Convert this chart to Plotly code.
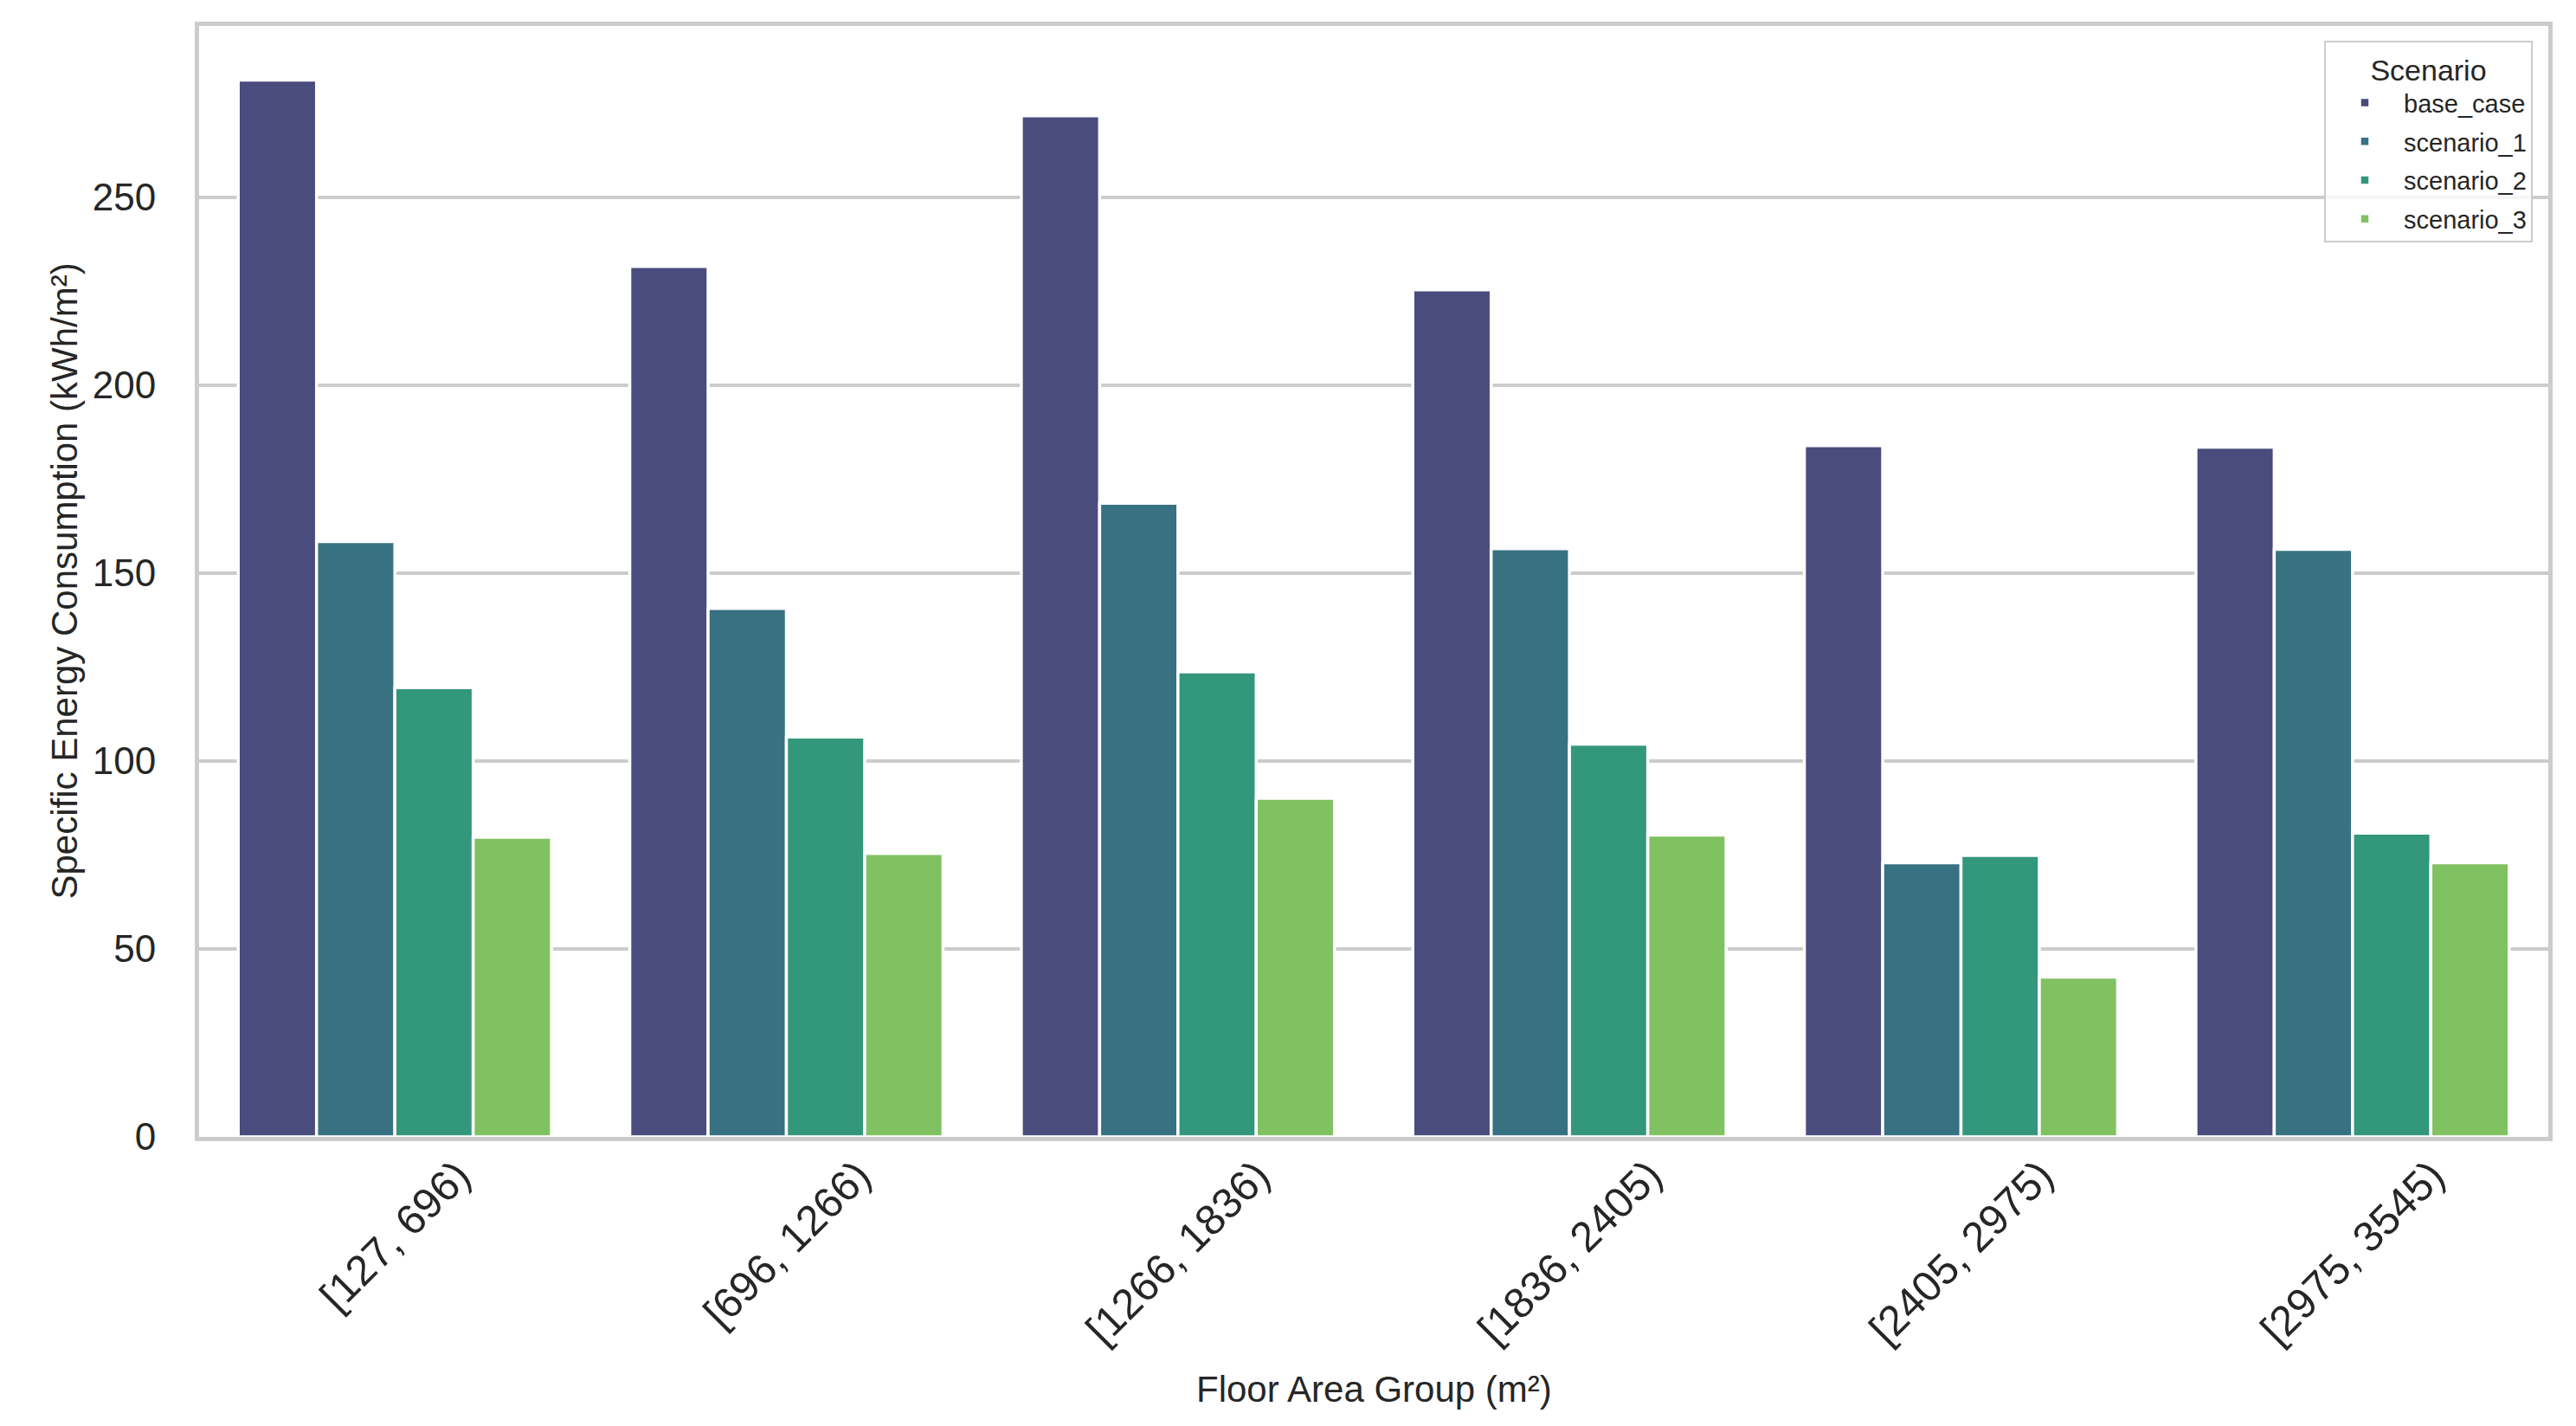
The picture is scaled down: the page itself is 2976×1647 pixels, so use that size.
import plotly.graph_objects as go

# Floor-area bins (x categories) and specific energy per scenario (kWh/m²)
area_groups = ["[127, 696)", "[696, 1266)", "[1266, 1836)",
               "[1836, 2405)", "[2405, 2975)", "[2975, 3545)"]
scenarios = ["base_case", "scenario_1", "scenario_2", "scenario_3"]

base_case = [281.2, 231.6, 271.7, 225.4, 183.9, 183.5]
scenario_1 = [158.4, 140.6, 168.6, 156.5, 72.9, 156.3]
scenario_2 = [119.5, 106.4, 123.7, 104.5, 74.9, 80.8]
scenario_3 = [79.7, 75.4, 90.1, 80.3, 42.5, 72.9]

y_ticks = [0, 50, 100, 150, 200, 250]

# seaborn "viridis" (4 colours) with the default 0.75 bar desaturation
colors = ["#4a4c7e", "#377182", "#33977c", "#80c161"]

FONT = "Liberation Sans, Arial, sans-serif"
INK = "#262626"
GRID = "#cccccc"

# the page body has an 8px margin, so the figure is drawn 16px smaller and
# everything below is worked out in window pixels, then shifted
PAD = 8
WIN_W, WIN_H = 2976, 1647
W, H = WIN_W - 2 * PAD, WIN_H - 2 * PAD
X0, X1, Y0, Y1 = 230, 2944, 30, 1313          # plot area in window pixels
ML, MR, MT, MB = X0 - PAD, W - (X1 - PAD), Y0 - PAD, H - (Y1 - PAD)
plot_w, plot_h = X1 - X0, Y1 - Y0

fig = go.Figure()
for name, vals, col in zip(scenarios, [base_case, scenario_1, scenario_2, scenario_3], colors):
    fig.add_trace(go.Bar(
        x=area_groups, y=vals, name=name, legendgroup=name,
        marker=dict(color=col, line=dict(color="white", width=3.5)),
    ))

# rotated category labels, centred under each group like matplotlib's ha="center"
annotations = [
    dict(x=g, y=-14 / plot_h, xref="x", yref="paper", text=g, showarrow=False,
         textangle=-45, xanchor="center", yanchor="top",
         font=dict(size=49, color=INK, family=FONT))
    for g in area_groups
]
annotations.append(dict(
    x=0.5, y=-(1604 - Y1) / plot_h, xref="paper", yref="paper",
    text="Floor Area Group (m²)", showarrow=False, xanchor="center", yanchor="middle",
    font=dict(size=42, color=INK, family=FONT)))
annotations.append(dict(
    x=(74 - X0) / plot_w, y=0.5, xref="paper", yref="paper",
    text="Specific Energy Consumption (kWh/m²)", showarrow=False, textangle=-90,
    xanchor="center", yanchor="middle",
    font=dict(size=42, color=INK, family=FONT)))

fig.update_layout(
    width=W, height=H,
    margin=dict(l=ML, r=MR, t=MT, b=MB, autoexpand=False),
    paper_bgcolor="white", plot_bgcolor="white",
    font=dict(family=FONT, color=INK),
    barmode="group", bargap=0.2, bargroupgap=0,
    showlegend=True,
    legend=dict(
        x=(2926 - X0) / plot_w, y=(Y1 - 47) / plot_h, xanchor="right", yanchor="top",
        bgcolor="rgba(255,255,255,0.8)", bordercolor=GRID, borderwidth=2,
        font=dict(size=29, color=INK, family=FONT),
        title=dict(text="Scenario", side="top center",
                   font=dict(size=34, color=INK, family=FONT)),
        itemwidth=80, tracegroupgap=4,
    ),
    annotations=annotations,
)
fig.update_xaxes(
    type="category", range=[-0.5, 5.5], showticklabels=False, ticks="",
    showgrid=False, zeroline=False,
    showline=True, linecolor=GRID, linewidth=5, mirror=True,
)
fig.update_yaxes(
    range=[0, 295.6], tickvals=y_ticks, ticks="",
    tickfont=dict(size=44, color=INK, family=FONT), ticklabelstandoff=36,
    showgrid=True, gridcolor=GRID, gridwidth=4, zeroline=False,
    showline=True, linecolor=GRID, linewidth=5, mirror=True,
)

fig.write_html("out.html")
